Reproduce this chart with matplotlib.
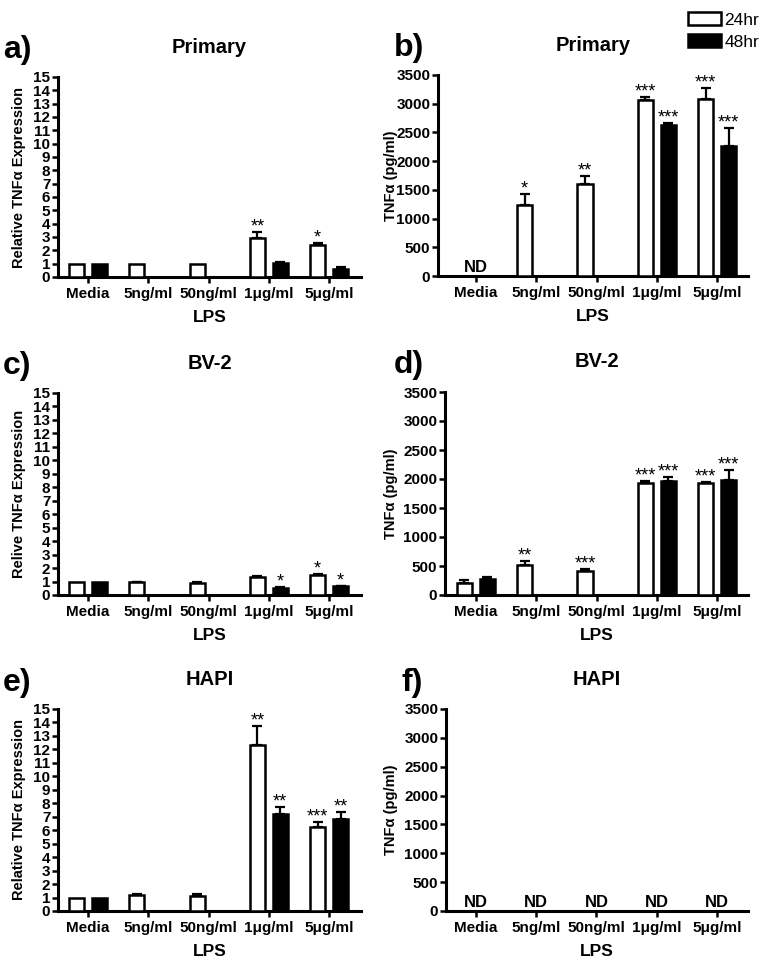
import numpy as np
import matplotlib
matplotlib.use("Agg")
import matplotlib.pyplot as plt
from matplotlib.patches import Patch

plt.rcParams['font.family'] = ['Liberation Sans', 'DejaVu Sans']
plt.rcParams['font.weight'] = 'bold'
plt.rcParams['axes.labelweight'] = 'bold'

nan = np.nan
groups = ['Media', '5ng/ml', '50ng/ml', '1μg/ml', '5μg/ml']

# a) Primary, relative expression
a_24 = [1.0, 1.0, 1.0, 2.95, 2.4]
a_24_err = [0, 0, 0, 0.45, 0.15]
a_48 = [1.0, nan, nan, 1.05, 0.6]
a_48_err = [0, nan, nan, 0.1, 0.17]
a_24_sig = ['', '', '', '**', '*']
a_48_sig = ['', '', '', '', '']

# b) Primary, pg/ml
b_24 = [nan, 1245, 1600, 3065, 3090]
b_24_err = [nan, 180, 145, 50, 190]
b_48 = [nan, nan, nan, 2630, 2255]
b_48_err = [nan, nan, nan, 30, 330]
b_24_sig = ['', '*', '**', '***', '***']
b_48_sig = ['', '', '', '***', '***']
b_nd = ['ND', '', '', '', '']

# c) BV-2, relative expression
c_24 = [1.0, 0.97, 0.92, 1.32, 1.5]
c_24_err = [0, 0.02, 0.02, 0.1, 0.03]
c_48 = [1.0, nan, nan, 0.55, 0.65]
c_48_err = [0, nan, nan, 0.03, 0.03]
c_24_sig = ['', '', '', '', '*']
c_48_sig = ['', '', '', '*', '*']

# d) BV-2, pg/ml
d_24 = [210, 515, 410, 1930, 1930]
d_24_err = [45, 75, 40, 40, 10]
d_48 = [270, nan, nan, 1960, 1985]
d_48_err = [45, nan, nan, 75, 165]
d_24_sig = ['', '**', '***', '***', '***']
d_48_sig = ['', '', '', '***', '***']

# e) HAPI, relative expression
e_24 = [1.0, 1.18, 1.14, 12.3, 6.25]
e_24_err = [0, 0.07, 0.1, 1.45, 0.37]
e_48 = [1.0, nan, nan, 7.2, 6.8]
e_48_err = [0, nan, nan, 0.55, 0.55]
e_24_sig = ['', '', '', '**', '***']
e_48_sig = ['', '', '', '**', '**']

# f) HAPI, pg/ml - nothing detected
f_24 = [nan] * 5
f_24_err = [nan] * 5
f_48 = [nan] * 5
f_48_err = [nan] * 5
f_nd = ['ND'] * 5

W, H = 768, 965
fig = plt.figure(figsize=(W / 100, H / 100), dpi=100)


def px_axes(l, t, r, b):
    return fig.add_axes([l / W, 1 - b / H, (r - l) / W, (b - t) / H])


def draw_bars(ax, vals, errs, sigs, off, color):
    x = np.arange(len(vals)) + off
    v = np.array(vals, float)
    e = np.array(errs, float)
    ok = ~np.isnan(v)
    ax.bar(x[ok], v[ok], 0.25, color=color, edgecolor='black', lw=1.8, zorder=3)
    eo = ok & (np.nan_to_num(e) > 0)
    ax.errorbar(x[eo], v[eo], yerr=[np.zeros(eo.sum()), e[eo]], fmt='none',
                ecolor='black', elinewidth=1.6, capsize=3.6, capthick=1.6, zorder=2)
    for xi, vi, ei, s in zip(x, v, np.nan_to_num(e), sigs):
        if s:
            ax.annotate(s, (xi, vi + ei), xytext=(0, -2.5), textcoords='offset points',
                        ha='center', va='bottom', fontsize=13, fontweight='normal')


def panel(rect, letter, lpos, title, ylabel, ymax, ystep, xlim, ylab_x,
          s24, e24, g24, s48, e48, g48, nd=None):
    ax = px_axes(*rect)
    draw_bars(ax, s24, e24, g24, -0.19, 'white')
    draw_bars(ax, s48, e48, g48, 0.19, 'black')
    if nd:
        for i, t in enumerate(nd):
            if t:
                ax.annotate(t, (i, 0), xytext=(0, 1), textcoords='offset points',
                            ha='center', va='bottom', fontsize=12)
    ax.set_xlim(*xlim)
    ax.set_ylim(0, ymax)
    ax.set_yticks(np.arange(0, ymax + ystep / 2, ystep))
    ax.set_xticks(range(len(groups)))
    ax.set_xticklabels(groups)
    ax.tick_params(axis='both', direction='out', length=4.5, width=1.8, labelsize=11, pad=1)
    ax.tick_params(axis='x', pad=3)
    for s in ('top', 'right'):
        ax.spines[s].set_visible(False)
    for s in ('left', 'bottom'):
        ax.spines[s].set_linewidth(2.2)
    ax.set_ylabel(ylabel, fontsize=10.5)
    ax.yaxis.set_label_coords(ylab_x, 0.5)
    ax.set_xlabel('LPS', fontsize=12.5)
    ax.xaxis.set_label_coords(0.5, -0.163)
    ax.text(0.5, 1.148, title, transform=ax.transAxes, ha='center', va='center', fontsize=14.5)
    fig.text(lpos[0] / W, 1 - lpos[1] / H, letter, ha='center', va='center', fontsize=23)
    return ax


rel_lab = 'Relative TNFα Expression'
pg_lab = 'TNFα (pg/ml)'

panel((58, 77, 361, 277), 'a)', (17, 50), 'Primary', rel_lab, 15, 1, (-0.498, 4.53), -0.106,
      a_24, a_24_err, a_24_sig, a_48, a_48_err, a_48_sig)
panel((438, 75, 748, 276), 'b)', (409, 48), 'Primary', pg_lab, 3500, 500, (-0.624, 4.508), -0.129,
      b_24, b_24_err, b_24_sig, b_48, b_48_err, b_48_sig, nd=b_nd)
panel((58, 393, 361, 595), 'c)', (17, 366), 'BV-2', 'Relive TNFα Expression', 15, 1, (-0.498, 4.53), -0.106,
      c_24, c_24_err, c_24_sig, c_48, c_48_err, c_48_sig)
panel((445, 392, 748, 595), 'd)', (409, 365), 'BV-2', pg_lab, 3500, 500, (-0.508, 4.508), -0.155,
      d_24, d_24_err, d_24_sig, d_48, d_48_err, d_48_sig)
panel((58, 709, 361, 911), 'e)', (17, 683), 'HAPI', rel_lab, 15, 1, (-0.498, 4.53), -0.106,
      e_24, e_24_err, e_24_sig, e_48, e_48_err, e_48_sig)
panel((446, 709, 748, 911), 'f)', (412, 683), 'HAPI', pg_lab, 3500, 500, (-0.49, 4.508), -0.159,
      f_24, f_24_err, [''] * 5, f_48, f_48_err, [''] * 5, nd=f_nd)

handles = [Patch(facecolor='white', edgecolor='black', lw=1.8, label='24hr'),
           Patch(facecolor='black', edgecolor='black', lw=1.8, label='48hr')]
fig.legend(handles=handles, loc='upper right', bbox_to_anchor=(1.0, 0.997),
           frameon=False, handlelength=1.9, handleheight=0.85, handletextpad=0.2,
           labelspacing=0.35, borderaxespad=0.1, prop={'size': 12.5, 'weight': 'normal'})

fig.savefig('out.png', dpi=100)
